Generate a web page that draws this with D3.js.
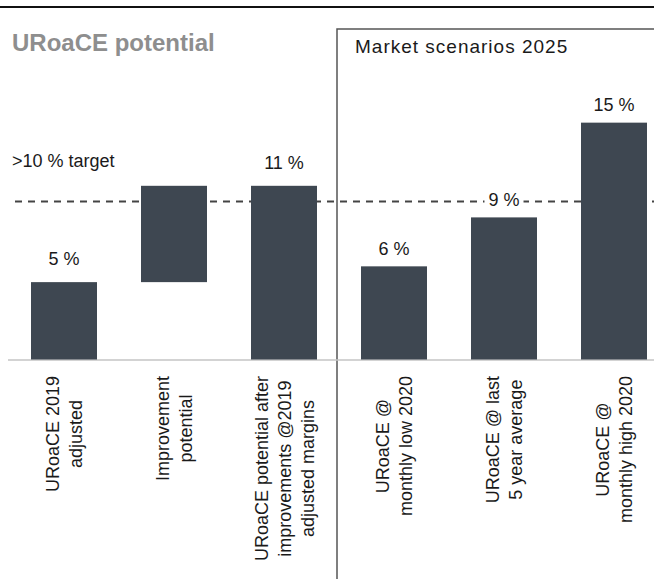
<!DOCTYPE html>
<html>
<head>
<meta charset="utf-8">
<script src="https://cdn.jsdelivr.net/npm/d3@7"></script>
<style>
  html, body { margin: 0; padding: 0; background: #fff; }
  svg { display: block; font-family: "Liberation Sans", Arial, sans-serif; }
</style>
</head>
<body>
<svg id="chart" width="654" height="579"></svg>
<script>
// ---- data ----
const categories = ["adj2019", "improvement", "potential", "low2020", "avg5y", "high2020"];
const categoryLines = [
  ["URoaCE 2019", "adjusted"],
  ["Improvement", "potential"],
  ["URoaCE potential after", "improvements @2019", "adjusted margins"],
  ["URoaCE @", "monthly low 2020"],
  ["URoaCE @ last", "5 year average"],
  ["URoaCE @", "monthly high 2020"]
];
const barStart = [0, 4.9, 0, 0, 0, 0];
const barEnd = [4.9, 11.0, 11.0, 5.9, 9.0, 15.0];
const valueLabels = ["5 %", "", "11 %", "6 %", "9 %", "15 %"];
const panelOf = [0, 0, 0, 1, 1, 1];
const targetValue = 10;
const targetLabel = ">10 % target";
const leftTitle = "URoaCE potential";
const rightTitle = "Market scenarios 2025";

// ---- layout ----
const W = 654, H = 579;
const baseY = 359.5;
const svg = d3.select("#chart");

const x = d3.scaleBand().domain(categories).range([9, 669]).paddingInner(0.4).paddingOuter(0.2);
const y = d3.scaleLinear().domain([0, 15]).range([baseY, baseY - 15 * 15.79]);

// top rule
svg.append("line").attr("x1", 0).attr("x2", W).attr("y1", 7).attr("y2", 7)
  .attr("stroke", "#111").attr("stroke-width", 2);

// right panel box
svg.append("path")
  .attr("d", `M337,${H + 2} L337,29 L${W + 2},29`)
  .attr("fill", "none").attr("stroke", "#555").attr("stroke-width", 1.5);

// titles
svg.append("text").attr("x", 12).attr("y", 51)
  .attr("font-size", 24).attr("font-weight", "bold").attr("fill", "#8e8e8e")
  .text(leftTitle);
svg.append("text").attr("x", 355).attr("y", 53)
  .attr("font-size", 19).attr("letter-spacing", 1).attr("fill", "#1a1a1a")
  .text(rightTitle);

// axis baseline
svg.append("line").attr("x1", 8).attr("x2", W).attr("y1", baseY + 0.5).attr("y2", baseY + 0.5)
  .attr("stroke", "#c4c4c4").attr("stroke-width", 1.5);

// target dashed line (behind bars)
svg.append("line").attr("x1", 15).attr("x2", W).attr("y1", y(targetValue)).attr("y2", y(targetValue))
  .attr("stroke", "#444").attr("stroke-width", 2).attr("stroke-dasharray", "7,6");

svg.append("text").attr("x", 12).attr("y", 167)
  .attr("font-size", 18).attr("fill", "#1a1a1a").text(targetLabel);

// bars
const data = categories.map((c, i) => ({
  c, s: barStart[i], e: barEnd[i], label: valueLabels[i], lines: categoryLines[i], panel: panelOf[i]
}));

svg.append("g").selectAll("rect").data(data).join("rect")
  .attr("x", d => x(d.c))
  .attr("width", x.bandwidth())
  .attr("y", d => y(d.e))
  .attr("height", d => y(d.s) - y(d.e))
  .attr("fill", "#3e4751");

// value labels
const vl = svg.append("g").selectAll("g").data(data.filter(d => d.label)).join("g");
vl.each(function(d) {
  const g = d3.select(this);
  const gap = d.panel === 0 ? 17 : 11.5;
  const t = g.append("text")
    .attr("x", x(d.c) + x.bandwidth() / 2)
    .attr("y", y(d.e) - gap)
    .attr("text-anchor", "middle")
    .attr("font-size", 18).attr("fill", "#1a1a1a")
    .text(d.label);
  const bb = t.node().getBBox();
  g.insert("rect", "text")
    .attr("x", bb.x - 4).attr("y", bb.y).attr("width", bb.width + 8).attr("height", bb.height)
    .attr("fill", "#fff");
});

// category labels (rotated)
const lh = 23;
const catG = svg.append("g");
data.forEach(d => {
  const cx = x(d.c) + x.bandwidth() / 2;
  const n = d.lines.length;
  const texts = d.lines.map((line, i) => catG.append("text")
    .attr("font-size", 18).attr("fill", "#1a1a1a")
    .attr("text-anchor", "middle")
    .text(line));
  const maxLen = d3.max(texts, t => t.node().getComputedTextLength());
  const cy = 376 + maxLen / 2;
  texts.forEach((t, i) => {
    const bx = cx + (i - (n - 1) / 2) * lh + 6.5;
    t.attr("transform", `translate(${bx},${cy}) rotate(-90)`);
  });
});
</script>
</body>
</html>
